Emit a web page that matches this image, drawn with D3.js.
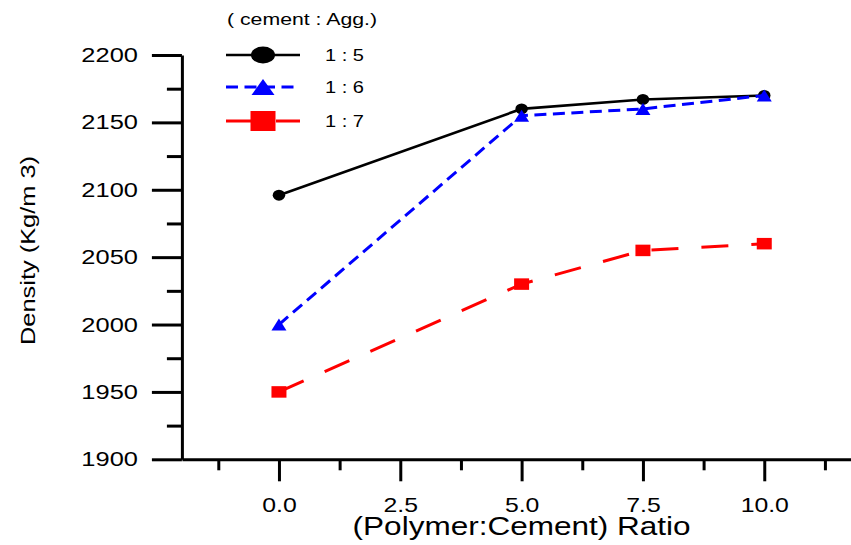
<!DOCTYPE html>
<html>
<head>
<meta charset="utf-8">
<script src="https://cdn.jsdelivr.net/npm/d3@7"></script>
<style>
  html, body { margin: 0; padding: 0; background: #fff; }
  svg { display: block; }
  text { font-family: "Liberation Sans", Arial, sans-serif; fill: #000; }
</style>
</head>
<body>
<svg id="chart" width="851" height="545"></svg>
<script>
// ---- data ----
const xValues = [0, 5, 7.5, 10];
const series15 = [2096, 2160, 2167, 2170];
const series16 = [2000, 2155, 2160, 2170];
const series17 = [1950, 2030, 2055, 2060];
const seriesNames = ["1 : 5", "1 : 6", "1 : 7"];
const legendTitle = "( cement : Agg.)";
const xMajorTicks = [0, 2.5, 5, 7.5, 10];
const xMinorTicks = [-1.25, 1.25, 3.75, 6.25, 8.75, 11.25];
const yMajorTicks = [1900, 1950, 2000, 2050, 2100, 2150, 2200];
const yMinorTicks = [1925, 1975, 2025, 2075, 2125, 2175];
const xTitle = "(Polymer:Cement) Ratio";
const yTitle = "Density (Kg/m 3)";

const svg = d3.select("#chart");
const x = d3.scaleLinear().domain([-2, 11.8]).range([181.9, 181.9 + 13.8 * 48.53]);
const y = d3.scaleLinear().domain([1900, 2200]).range([459.3, 55]);

const STRETCH = 1.2;
function stretch(sel, k) {
  sel.each(function () {
    const len = this.getComputedTextLength();
    d3.select(this).attr("textLength", len * k).attr("lengthAdjust", "spacingAndGlyphs");
  });
}

// ---- axes ----
const axisStyle = g => {
  g.selectAll("path.domain").attr("stroke", "#000").attr("stroke-width", 3);
  g.selectAll(".tick line").attr("stroke", "#000").attr("stroke-width", 3);
};

// y minor
svg.append("g").attr("transform", `translate(${x(-2)},0)`)
  .call(d3.axisLeft(y).tickValues(yMinorTicks).tickSize(15).tickSizeOuter(0).tickFormat(""))
  .call(axisStyle).call(g => g.select("path.domain").remove());
// y major
const gy = svg.append("g").attr("transform", `translate(${x(-2)},0)`)
  .call(d3.axisLeft(y).tickValues(yMajorTicks).tickSize(30).tickSizeOuter(0).tickPadding(14).tickFormat(d3.format("d")))
  .call(axisStyle);
gy.selectAll(".tick text").attr("font-size", 20.5).attr("font-family", null).attr("fill", "#000");

// x minor
svg.append("g").attr("transform", `translate(0,${y(1900)})`)
  .call(d3.axisBottom(x).tickValues(xMinorTicks).tickSize(11).tickSizeOuter(0).tickFormat(""))
  .call(axisStyle).call(g => g.select("path.domain").remove());
// x major
const gx = svg.append("g").attr("transform", `translate(0,${y(1900)})`)
  .call(d3.axisBottom(x).tickValues(xMajorTicks).tickSize(22).tickSizeOuter(0).tickPadding(16).tickFormat(d3.format(".1f")))
  .call(axisStyle);
gx.selectAll(".tick text").attr("font-size", 21).attr("font-family", null).attr("fill", "#000");
svg.selectAll("g").attr("font-family", null).attr("font-size", null);
gy.selectAll(".tick text").attr("font-size", 20.5);
gx.selectAll(".tick text").attr("font-size", 21);
stretch(gy.selectAll(".tick text"), 1.24);
stretch(gx.selectAll(".tick text"), 1.18);

// ---- titles ----
svg.append("text").attr("x", x(5)).attr("y", 535).attr("text-anchor", "middle")
  .attr("font-size", 25).attr("textLength", 338).attr("lengthAdjust", "spacingAndGlyphs").text(xTitle);
svg.append("text").attr("transform", "translate(35,250.5) rotate(-90)").attr("text-anchor", "middle")
  .attr("font-size", 20).attr("textLength", 189).attr("lengthAdjust", "spacingAndGlyphs").text(yTitle);

// ---- series ----
const seriesDefs = [
  { values: series15, color: "#000000", dash: null, width: 2.6, shape: "circle" },
  { values: series16, color: "#0000ff", dash: "12,6.5", width: 3, shape: "triangle" },
  { values: series17, color: "#ff0000", dash: "27,23", width: 3, shape: "square" }
];

function drawMarker(g, shape, cx, cy, w, h, color) {
  if (shape === "circle") {
    g.append("ellipse").attr("cx", cx).attr("cy", cy).attr("rx", w / 2).attr("ry", h / 2).attr("fill", color);
  } else if (shape === "square") {
    g.append("rect").attr("x", cx - w / 2).attr("y", cy - h / 2).attr("width", w).attr("height", h).attr("fill", color);
  } else {
    g.append("path").attr("d", `M${cx},${cy - h / 2}L${cx + w / 2},${cy + h / 2}L${cx - w / 2},${cy + h / 2}Z`).attr("fill", color);
  }
}
const dataSize = { circle: [12.5, 11], triangle: [15, 12], square: [15, 11.5] };
const legendSize = { circle: [24, 17], triangle: [23, 16], square: [25, 20] };

const line = d3.line().x(d => x(d[0])).y(d => y(d[1]));
seriesDefs.forEach(s => {
  const pts = xValues.map((v, i) => [v, s.values[i]]);
  const g = svg.append("g");
  g.append("path").attr("d", line(pts)).attr("fill", "none").attr("stroke", s.color)
    .attr("stroke-width", s.width).attr("stroke-dasharray", s.dash);
  pts.forEach(p => drawMarker(g, s.shape, x(p[0]), y(p[1]), dataSize[s.shape][0], dataSize[s.shape][1], s.color));
});

// ---- legend ----
const lg = svg.append("g");
lg.append("text").attr("x", 227).attr("y", 24.5).attr("font-size", 17)
  .attr("textLength", 150).attr("lengthAdjust", "spacingAndGlyphs").text(legendTitle);
const rowY = [55, 87, 121];
seriesDefs.forEach((s, i) => {
  const ry = rowY[i];
  lg.append("line").attr("x1", 226).attr("x2", 300).attr("y1", ry).attr("y2", ry)
    .attr("stroke", s.color).attr("stroke-width", s.width).attr("stroke-dasharray", s.dash);
  drawMarker(lg, s.shape, 263, ry, legendSize[s.shape][0], legendSize[s.shape][1], s.color);
  lg.append("text").attr("x", 325).attr("y", ry + 6).attr("font-size", 17)
    .attr("textLength", 39).attr("lengthAdjust", "spacingAndGlyphs").text(seriesNames[i]);
});
</script>
</body>
</html>
